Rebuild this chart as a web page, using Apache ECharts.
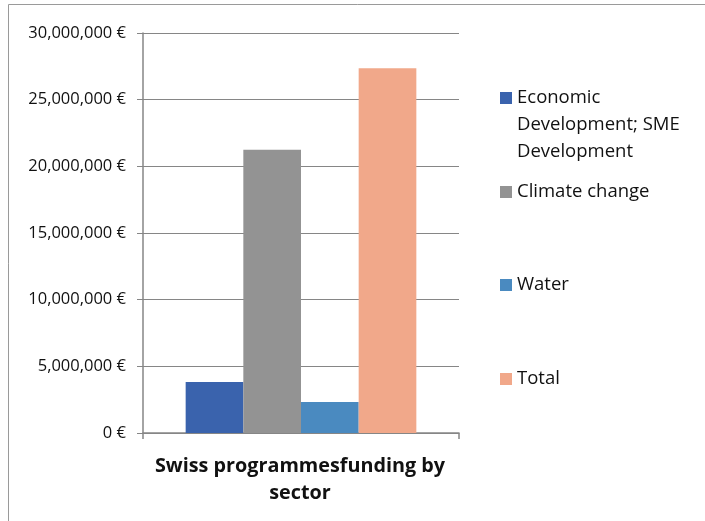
<!DOCTYPE html>
<html>
<head>
<meta charset="utf-8">
<script src="https://cdn.jsdelivr.net/npm/echarts@6/dist/echarts.min.js"></script>
<style>
  html, body { margin: 0; padding: 0; background: #fff; }
  #chart { width: 705px; height: 521px; }
</style>
</head>
<body>
<div id="chart"></div>
<script>
// 数据
const categories = ['']
const seriesNames = ['Economic Development; SME Development', 'Climate change', 'Water', 'Total']
const seriesValues = [[3830000], [21250000], [2320000], [27350000]]
const seriesColors = ['#3A63AD', '#939393', '#4A8AC0', '#F1A88A']
const yTicks = { min: 0, max: 30000000, step: 5000000 }
const titleText = 'Swiss programmesfunding by\nsector'

const FONT = 'Open Sans'

const chart = echarts.init(document.getElementById('chart'))

// 千分位格式
const fmtEuro = (v) => v.toLocaleString('en-US') + ' €'

// 图例 - 每项单独放置（图标中心 y）
const legendCenters = [98, 192, 285, 379]
const legends = seriesNames.map((name, i) => {
  const isLong = i === 0
  return {
    data: [name],
    left: 500,
    // 长标签前加两行空行，使图标对齐第一行
    top: isLong ? legendCenters[i] - 67.5 : legendCenters[i] - 13.5,
    orient: 'vertical',
    padding: 0,
    itemWidth: 12,
    itemHeight: 12,
    itemGap: 5,
    icon: 'rect',
    formatter: isLong ? () => ' \n \nEconomic\nDevelopment; SME\nDevelopment' : '{name}',
    textStyle: {
      fontFamily: FONT,
      fontSize: 18.5,
      color: '#111',
      lineHeight: 27
    }
  }
})

const option = {
  animation: false,
  backgroundColor: '#fff',
  title: {
    text: titleText,
    left: 300,
    top: 453,
    padding: 0,
    textAlign: 'center',
    textStyle: {
      fontFamily: FONT,
      fontSize: 19.8,
      fontWeight: 'bold',
      color: '#111',
      lineHeight: 27
    }
  },
  legend: legends,
  grid: {
    left: 143,
    right: 246,
    top: 33,
    bottom: 88
  },
  xAxis: {
    type: 'category',
    data: categories,
    axisLine: { lineStyle: { color: '#868686', width: 1.5 } },
    axisTick: { show: true, length: 6, lineStyle: { color: '#868686', width: 1.5 } },
    axisLabel: { show: false }
  },
  yAxis: {
    type: 'value',
    min: yTicks.min,
    max: yTicks.max,
    interval: yTicks.step,
    axisLine: { show: true, lineStyle: { color: '#868686', width: 1.5 } },
    axisTick: { show: true, length: 6, lineStyle: { color: '#868686' } },
    splitLine: { lineStyle: { color: '#868686', width: 1 } },
    axisLabel: {
      formatter: fmtEuro,
      fontFamily: FONT,
      fontSize: 16.5,
      color: '#111',
      margin: 17
    }
  },
  series: seriesNames.map((name, i) => ({
    name: name,
    type: 'bar',
    data: seriesValues[i],
    barGap: '0%',
    barCategoryGap: '27%',
    itemStyle: { color: seriesColors[i] }
  })),
  graphic: [
    {
      type: 'rect',
      shape: { x: 8.5, y: 4.5, width: 800, height: 600 },
      style: { fill: 'none', stroke: '#9a9a9a', lineWidth: 1 },
      silent: true
    }
  ]
}

chart.setOption(option)
window.addEventListener('resize', () => chart.resize())
</script>
</body>
</html>
